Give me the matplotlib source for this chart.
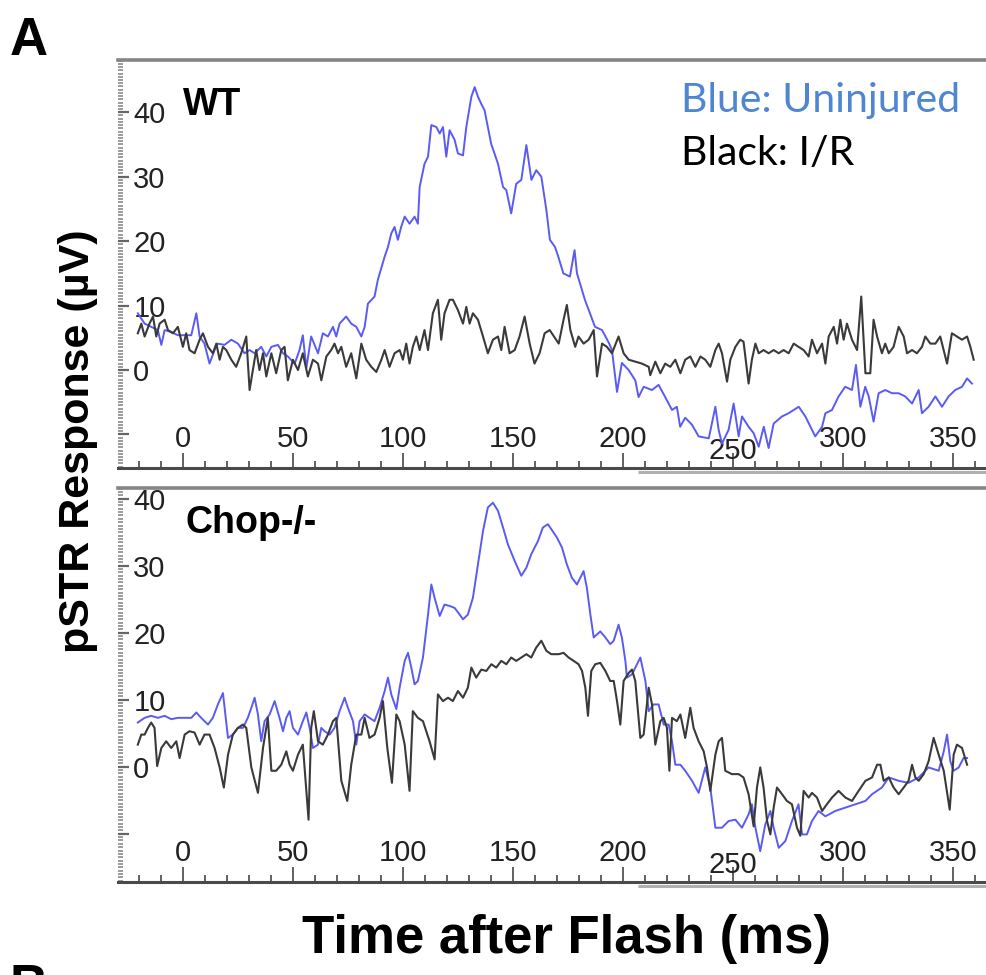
import matplotlib
matplotlib.use("Agg")
import matplotlib.pyplot as plt
from matplotlib.ticker import MultipleLocator

plt.rcParams['font.family'] = ['Liberation Sans', 'DejaVu Sans']

# pSTR traces: (time after flash in ms, response in uV)
wt_uninjured = [
    (-20.5, 8.8), (-17.4, 7.2), (-14.4, 6.7), (-11.4, 6.2), (-9.8, 3.9), (-8.3, 6.2), (-5.3, 5.9),
    (-2.3, 5.4), (0.8, 5.4), (3.8, 5.4), (6.1, 8.8), (7.6, 5.2), (9.8, 4.1), (12.1, 1.0), (14.4, 3.1),
    (15.9, 4.1), (18.9, 3.9), (22.0, 4.7), (25.0, 4.1), (28.0, 2.6), (30.3, 3.1), (32.6, 2.6),
    (35.6, 3.6), (37.9, 2.1), (40.2, 3.6), (43.2, 3.9), (45.5, 2.6), (47.7, 2.1), (50.8, 1.0),
    (53.0, 3.1), (54.5, 5.4), (56.1, 0.3), (58.3, 5.2), (61.4, 2.6), (63.6, 5.7), (65.9, 5.2),
    (68.2, 6.7), (69.7, 5.2), (71.2, 7.2), (74.2, 8.3), (76.5, 7.2), (78.8, 6.7), (81.1, 5.2),
    (82.6, 6.7), (84.1, 10.3), (87.1, 11.4), (88.6, 14.0), (91.7, 17.6), (93.2, 19.1), (94.7, 21.2),
    (96.2, 22.2), (97.7, 20.2), (99.2, 22.2), (100.8, 23.8), (103.0, 22.7), (105.3, 23.8),
    (106.8, 22.7), (107.6, 28.4), (109.8, 32.0), (111.4, 33.1), (112.9, 38.0), (115.2, 37.7),
    (116.7, 36.7), (118.2, 37.7), (119.7, 33.1), (121.2, 37.2), (123.5, 35.7), (125.0, 33.6),
    (127.3, 33.3), (128.8, 37.7), (131.1, 42.4), (132.6, 43.9), (134.1, 42.4), (135.6, 41.3),
    (137.1, 40.3), (138.6, 37.7), (140.1, 35.1), (143.2, 32.0), (145.5, 28.4), (147.0, 27.9),
    (149.2, 24.3), (151.5, 28.9), (153.8, 29.5), (156.1, 34.9), (158.4, 29.5), (160.6, 31.0),
    (162.9, 30.0), (165.2, 24.8), (166.8, 20.2), (169.1, 19.1), (170.6, 17.6), (172.9, 15.0),
    (175.9, 14.5), (178.0, 18.6), (179.1, 15.0), (182.7, 10.9), (187.3, 6.7), (190.5, 6.2),
    (193.6, 4.2), (195.0, 3.1), (197.3, -3.4), (199.5, 1.1), (202.6, 0.0), (205.6, -1.6),
    (207.1, -4.2), (209.4, -2.6), (213.2, -3.1), (216.2, -2.3), (219.2, -4.2), (222.3, -6.2),
    (224.5, -5.7), (226.0, -8.8), (228.3, -7.4), (231.4, -8.5), (234.4, -10.3), (239.0, -10.6),
    (242.0, -5.7), (243.5, -9.3), (245.0, -11.4), (248.0, -9.3), (250.3, -5.2), (252.6, -10.3),
    (254.1, -7.2), (257.1, -8.8), (259.4, -9.8), (261.7, -11.9), (264.0, -8.8), (266.2, -12.1),
    (268.5, -8.3), (272.3, -7.2), (275.3, -6.7), (279.9, -5.7), (282.9, -7.2), (287.4, -10.3),
    (290.5, -8.8), (292.0, -6.7), (295.0, -6.2), (298.0, -4.1), (301.0, -2.6), (304.1, -3.1),
    (305.9, 0.8), (307.9, -5.7), (310.1, -2.6), (311.7, -4.1), (313.9, -8.0), (316.2, -3.6),
    (319.2, -3.1), (322.3, -3.6), (325.3, -3.6), (328.3, -4.1), (331.4, -5.2), (334.4, -3.1),
    (335.9, -6.7), (338.9, -5.7), (342.0, -4.1), (345.0, -5.7), (348.0, -4.1), (351.0, -3.1),
    (354.1, -2.6), (356.4, -1.3), (358.6, -2.1),
]

wt_ir = [
    (-20.5, 5.7), (-18.9, 7.2), (-17.4, 5.2), (-15.2, 7.2), (-13.6, 8.3), (-12.1, 5.2), (-10.6, 7.2),
    (-8.3, 7.8), (-6.8, 6.2), (-4.5, 5.7), (-2.3, 6.7), (0.0, 3.6), (1.5, 5.7), (3.0, 3.1), (5.3, 2.6),
    (7.6, 4.7), (9.1, 5.7), (11.4, 3.6), (13.6, 2.6), (15.2, 4.1), (16.7, 1.6), (18.2, 3.6),
    (19.7, 3.1), (22.0, 1.6), (24.2, 0.5), (26.5, 2.6), (28.8, 5.2), (30.3, -3.1), (31.8, 0.0),
    (33.3, 3.1), (34.8, 0.0), (36.4, 2.6), (37.9, -1.0), (40.2, 2.6), (42.4, -0.5), (44.7, 3.1),
    (46.2, 3.6), (47.7, -1.6), (50.0, 1.6), (52.3, 0.0), (54.5, 2.6), (56.8, -1.0), (59.1, 1.6),
    (61.4, 1.0), (62.9, -1.6), (65.2, 2.1), (67.4, 3.1), (68.9, 4.1), (70.5, 2.6), (72.0, 3.6),
    (74.2, 0.5), (76.5, 2.6), (78.8, -1.3), (81.1, 4.1), (83.3, 1.6), (85.6, 0.5), (87.9, -0.3),
    (90.2, 1.6), (91.7, 3.1), (93.9, 0.5), (96.2, 2.6), (98.5, 3.1), (100.0, 1.6), (101.5, 4.1),
    (103.0, 1.0), (104.5, 3.6), (106.1, 5.2), (107.6, 3.1), (109.8, 6.2), (111.4, 3.1), (113.6, 8.8),
    (115.9, 10.9), (117.4, 4.7), (118.9, 8.8), (121.2, 10.9), (122.7, 10.9), (125.0, 9.3),
    (127.3, 7.2), (128.8, 9.8), (130.3, 7.2), (131.8, 8.8), (134.1, 7.8), (136.4, 5.2), (138.6, 2.6),
    (140.9, 4.7), (143.2, 5.2), (144.7, 3.1), (146.2, 6.7), (148.5, 2.6), (150.8, 3.1), (153.0, 5.2),
    (155.3, 8.3), (157.6, 4.1), (159.8, 1.0), (162.1, 2.6), (164.4, 5.7), (166.7, 6.2), (170.8, 4.1),
    (173.0, 7.8), (174.5, 10.1), (176.1, 6.2), (178.3, 3.6), (179.8, 5.2), (182.1, 4.1), (184.4, 4.7),
    (186.7, 6.2), (188.2, -1.0), (190.5, 4.1), (192.7, 3.6), (195.0, 2.6), (198.0, 5.2), (200.3, 2.6),
    (202.6, 1.6), (205.6, 1.3), (208.6, 1.0), (211.7, 0.5), (212.4, -0.8), (214.7, 1.3),
    (217.0, -0.5), (219.2, 1.0), (221.5, 0.5), (223.8, 1.6), (226.1, -0.5), (228.3, 1.6),
    (230.6, 2.1), (232.9, 0.5), (235.2, 2.1), (237.4, 1.6), (239.7, 0.5), (242.0, 3.1), (243.5, 4.1),
    (245.0, 2.6), (247.3, -1.8), (248.8, 1.6), (251.1, 3.6), (253.3, 4.7), (254.8, 4.4),
    (257.1, -2.1), (258.6, 1.6), (260.2, 4.1), (261.7, 2.6), (263.9, 3.1), (266.2, 2.6), (268.5, 3.1),
    (270.8, 2.6), (273.0, 3.1), (275.3, 2.6), (277.6, 4.1), (279.8, 3.6), (282.1, 3.1), (284.4, 2.1),
    (285.9, 4.7), (288.2, 2.6), (290.5, 4.1), (292.0, 1.0), (293.5, 5.2), (295.8, 6.7), (297.3, 4.1),
    (298.8, 7.8), (300.3, 4.7), (301.8, 7.2), (304.1, 4.7), (306.4, 3.1), (308.3, 11.4),
    (310.2, -0.5), (312.4, -0.5), (313.9, 7.8), (315.5, 5.2), (317.7, 2.6), (319.2, 4.1),
    (320.8, 2.6), (323.0, 3.6), (325.3, 6.7), (327.6, 5.2), (329.1, 2.6), (331.4, 3.1), (333.6, 2.6),
    (335.9, 3.6), (337.4, 5.2), (339.7, 4.1), (342.0, 4.1), (344.2, 5.2), (347.3, 1.0), (349.5, 5.7),
    (351.8, 5.2), (354.1, 4.7), (356.4, 5.2), (357.9, 3.6), (359.4, 1.6),
]

chop_uninjured = [
    (-20.5, 6.6), (-17.4, 7.3), (-14.4, 7.6), (-11.4, 7.3), (-8.3, 7.6), (-5.3, 7.1), (-2.3, 7.3),
    (0.8, 7.3), (3.8, 7.3), (6.1, 8.1), (8.3, 7.3), (11.4, 6.3), (13.6, 7.3), (15.9, 9.3), (18.2, 11.0),
    (20.5, 4.3), (22.7, 4.8), (25.0, 5.8), (27.3, 5.8), (29.5, 7.3), (31.1, 8.8), (32.6, 10.3),
    (34.1, 7.8), (35.6, 3.8), (37.1, 6.8), (39.4, 7.8), (41.7, 9.8), (43.9, 7.3), (45.5, 5.3),
    (47.0, 7.3), (48.5, 8.3), (50.0, 5.8), (52.3, 4.8), (54.5, 6.8), (56.1, 8.1), (57.6, 5.8),
    (59.1, 2.8), (61.4, 3.3), (62.9, 5.8), (64.4, 5.3), (66.7, 4.8), (68.9, 5.8), (71.2, 8.3),
    (73.5, 10.3), (75.0, 8.8), (77.3, 6.8), (78.8, 3.3), (80.3, 6.8), (82.6, 7.8), (84.8, 7.3),
    (87.1, 6.8), (89.4, 8.8), (91.7, 11.3), (93.2, 13.3), (94.7, 10.8), (97.0, 8.6), (98.5, 11.8),
    (100.8, 15.8), (102.3, 17.0), (103.8, 14.8), (105.3, 12.3), (106.8, 12.8), (109.1, 16.3),
    (111.4, 22.7), (112.9, 27.2), (114.4, 25.2), (116.7, 22.5), (118.9, 24.2), (121.2, 24.0),
    (123.5, 23.7), (125.8, 22.7), (127.3, 22.0), (129.5, 22.7), (131.8, 25.2), (134.1, 30.2),
    (136.4, 35.2), (138.6, 38.7), (140.9, 39.4), (143.2, 38.2), (145.5, 35.7), (147.7, 33.2),
    (150.8, 30.7), (153.8, 28.5), (156.1, 29.7), (158.3, 31.7), (161.4, 33.7), (163.6, 35.7),
    (165.9, 36.2), (170.0, 34.2), (172.3, 32.7), (174.5, 30.2), (176.8, 28.2), (179.1, 27.2),
    (180.6, 28.2), (182.1, 29.2), (183.6, 26.7), (185.2, 22.7), (186.7, 19.3), (189.7, 20.2),
    (192.0, 19.3), (194.2, 18.3), (195.8, 18.8), (198.0, 21.2), (199.5, 19.3), (201.1, 15.8),
    (201.8, 13.3), (204.1, 13.8), (205.6, 14.8), (207.9, 16.3), (210.2, 12.8), (211.7, 8.3),
    (213.9, 9.3), (216.2, 9.3), (218.5, 6.3), (220.8, 6.3), (222.3, 3.8), (223.8, 0.3), (226.1, 0.3),
    (228.3, -0.6), (231.4, -2.1), (234.4, -3.9), (237.4, -0.1), (239.7, -3.1), (242.0, -9.1),
    (245.0, -9.1), (248.0, -8.1), (251.1, -7.9), (254.1, -9.1), (257.1, -7.1), (258.6, -5.6),
    (260.2, -9.1), (262.4, -12.6), (264.7, -8.6), (267.0, -6.6), (268.5, -9.1), (270.8, -12.1),
    (273.8, -11.1), (276.8, -8.1), (279.8, -5.6), (281.4, -10.1), (283.6, -10.1), (285.9, -8.1),
    (288.9, -6.6), (292.0, -7.4), (296.5, -6.6), (301.1, -6.1), (305.6, -5.6), (310.2, -5.1),
    (313.2, -4.1), (317.7, -3.1), (320.8, -1.6), (325.3, -2.1), (329.8, -2.4), (334.4, -1.6),
    (338.9, -0.1), (343.5, -0.6), (345.8, 2.3), (347.3, 4.8), (348.8, 0.8), (350.3, -0.6),
    (352.6, -0.1), (354.8, 1.3), (356.4, 1.3),
]

chop_ir = [
    (-20.5, 3.3), (-18.9, 4.8), (-17.4, 4.8), (-15.9, 5.8), (-14.4, 6.6), (-12.9, 5.8), (-11.7, 0.1),
    (-9.8, 2.8), (-7.6, 3.8), (-5.3, 2.8), (-3.0, 3.8), (-1.5, 1.3), (0.8, 4.8), (3.0, 5.3), (5.3, 5.1),
    (7.6, 3.3), (9.8, 4.8), (12.1, 4.8), (14.4, 2.8), (16.7, -0.1), (18.6, -3.1), (20.5, 1.8),
    (22.7, 4.8), (25.0, 5.8), (27.3, 6.3), (28.8, 5.8), (31.1, -0.1), (34.1, -3.9), (36.4, 2.8),
    (38.6, 7.3), (40.2, -0.6), (42.4, -0.6), (44.7, 0.3), (47.0, 2.3), (48.5, 0.3), (50.0, -0.6),
    (52.3, 1.8), (54.5, 3.3), (57.1, -7.9), (58.3, 5.8), (59.5, 8.3), (61.4, 3.8), (63.6, 3.3),
    (65.9, 4.8), (68.2, 6.8), (69.7, 7.3), (72.0, -2.1), (74.7, -5.1), (76.5, 0.3), (78.8, 4.8),
    (81.1, 4.8), (82.6, 7.3), (84.8, 4.3), (87.1, 4.8), (89.4, 7.3), (90.9, 9.8), (92.9, 2.8),
    (95.0, -2.4), (97.0, 7.8), (98.5, 6.8), (100.8, 3.3), (103.0, -3.6), (104.5, 8.3), (106.8, 7.3),
    (109.1, 6.8), (112.1, 3.8), (114.4, 1.1), (115.9, 10.8), (118.2, 9.8), (120.5, 10.3),
    (122.7, 9.8), (125.0, 11.3), (127.3, 10.3), (129.5, 11.8), (131.1, 14.8), (133.3, 13.3),
    (135.6, 14.5), (137.9, 14.3), (140.2, 15.3), (142.4, 14.8), (144.7, 15.8), (147.0, 15.3),
    (149.2, 16.3), (151.5, 15.8), (153.8, 16.3), (156.1, 16.8), (158.3, 16.3), (160.6, 17.8),
    (162.9, 18.8), (165.2, 17.3), (167.4, 16.8), (170.8, 16.8), (173.0, 17.0), (175.3, 16.3),
    (177.6, 15.8), (179.8, 15.3), (181.4, 14.3), (182.9, 11.8), (184.1, 7.6), (185.6, 14.3),
    (187.4, 15.3), (189.7, 15.5), (192.0, 14.3), (194.2, 12.8), (195.8, 12.8), (197.3, 9.8),
    (198.8, 6.3), (200.3, 12.8), (202.6, 14.0), (204.1, 14.5), (205.6, 12.8), (207.9, 4.3),
    (209.4, 4.8), (211.7, 11.8), (213.2, 9.3), (214.7, 3.3), (217.0, 6.8), (218.5, 7.3), (220.0, 5.8),
    (221.1, -0.6), (222.3, 7.3), (224.5, 6.8), (226.1, 7.8), (228.3, 4.3), (230.6, 8.8), (232.1, 5.8),
    (234.4, 3.8), (236.7, 2.3), (238.2, -0.1), (239.7, -3.6), (242.0, 1.8), (243.5, 3.8), (245.0, 4.3),
    (246.5, -0.6), (249.5, -1.1), (252.6, -1.1), (254.8, -1.6), (257.1, -4.1), (259.4, -8.9),
    (260.9, -3.1), (262.4, -0.1), (263.9, -3.1), (265.5, -8.1), (267.0, -10.1), (268.5, -6.1),
    (270.0, -3.1), (272.3, -4.1), (274.5, -5.1), (276.8, -5.6), (279.1, -9.1), (280.6, -10.3),
    (282.1, -3.6), (284.4, -4.6), (285.9, -3.9), (288.2, -4.6), (290.5, -6.6), (292.7, -5.6),
    (295.0, -4.6), (298.0, -3.6), (301.1, -4.6), (304.1, -5.1), (307.1, -3.6), (310.2, -2.1),
    (313.2, -1.6), (315.5, 0.3), (317.0, 0.3), (318.5, -2.1), (320.8, -1.6), (323.0, -3.1),
    (325.3, -4.1), (327.6, -3.1), (329.8, -2.1), (331.4, 0.3), (332.9, -1.6), (334.4, -2.1),
    (336.7, -1.1), (338.9, 0.8), (341.2, 4.3), (343.5, 1.8), (345.8, -0.6), (348.5, -6.4),
    (350.3, 1.8), (351.8, 3.3), (354.1, 2.8), (356.4, 0.3),
]

x_ticks = [0, 50, 100, 150, 200, 250, 300, 350]
x_labels = ['0', '50', '100', '150', '200', '250', '300', '350']
y_ticks = [-10, 0, 10, 20, 30, 40]
y_labels = ['', '0', '10', '20', '30', '40']

BLUE = '#5a5af5'
BLACK = '#3a3a3a'

fig = plt.figure(figsize=(9.86, 9.75), dpi=100)
ax1 = fig.add_axes([118/986, 1 - 468/975, 868/986, 408/975])
ax2 = fig.add_axes([118/986, 1 - 882/975, 868/986, 394/975])


def style_panel(ax, ylim):
    ax.set_xlim(-29.5, 365)
    ax.set_ylim(*ylim)
    for s in ['right', 'left']:
        ax.spines[s].set_visible(False)
    ax.spines['top'].set_color('#858585')
    ax.spines['top'].set_linewidth(2.6)
    ax.spines['bottom'].set_color('#4a4a4a')
    ax.spines['bottom'].set_linewidth(2.2)

    ax.set_xticks(x_ticks, x_labels)
    ax.set_yticks(y_ticks, y_labels)
    ax.xaxis.set_minor_locator(MultipleLocator(10))
    ax.yaxis.set_minor_locator(MultipleLocator(0.5))

    ax.tick_params(axis='x', which='major', direction='in', length=11, width=1.3,
                   color='#555555', pad=-11, labelsize=21, labelcolor='#222222')
    ax.tick_params(axis='x', which='minor', direction='in', length=5, width=1.3, color='#555555')
    ax.tick_params(axis='y', which='major', direction='in', length=8, width=1.6,
                   color='#666666', pad=-11, labelsize=21, labelcolor='#222222')
    ax.tick_params(axis='y', which='minor', direction='in', length=3.5, width=1.2, color='#8a8a8a')

    for lab in ax.get_xticklabels():
        lab.set_va('bottom')
        if lab.get_text() == '250':
            lab.set_y(-0.03)
    for lab in ax.get_yticklabels():
        lab.set_ha('left')

    # faint grey shadow under the right part of the time axis
    ax.plot([0.599, 1.0], [-0.009, -0.009], transform=ax.transAxes, clip_on=False,
            color='#b0b0b0', lw=2.2, solid_capstyle='butt')


def draw_trace(ax, trace, color, lw):
    t, v = zip(*trace)
    ax.plot(t, v, color=color, lw=lw, solid_joinstyle='round')


style_panel(ax1, (-15.2, 48.1))
draw_trace(ax1, wt_uninjured, BLUE, 1.4)
draw_trace(ax1, wt_ir, BLACK, 1.5)
ax1.text(0.075, 0.865, 'WT', transform=ax1.transAxes, fontsize=27,
         fontweight='bold', va='baseline')

style_panel(ax2, (-17.2, 41.6))
draw_trace(ax2, chop_uninjured, BLUE, 1.4)
draw_trace(ax2, chop_ir, BLACK, 1.5)
ax2.text(0.078, 0.886, 'Chop-/-', transform=ax2.transAxes, fontsize=27,
         fontweight='bold', va='baseline')

fig.text(0.6907, 0.8854, 'Blue: Uninjured', color='#4f86d1', fontsize=29.5,
         family=['Lato', 'DejaVu Sans'], va='baseline')
fig.text(0.6907, 0.8308, 'Black: I/R', color='black', fontsize=29.5,
         family=['Lato', 'DejaVu Sans'], va='baseline')

fig.text(0.010, 0.9436, 'A', fontsize=38, fontweight='bold', va='baseline')
fig.text(0.010, -0.028, 'B', fontsize=38, fontweight='bold', va='baseline')
fig.text(0.079, 0.5477, 'pSTR Response (µV)', rotation=90, fontsize=31,
         fontweight='bold', ha='center', va='center')
fig.text(0.575, 0.037, 'Time after Flash (ms)', fontsize=38, fontweight='bold',
         ha='center', va='center')

fig.savefig('out.png', dpi=100)
